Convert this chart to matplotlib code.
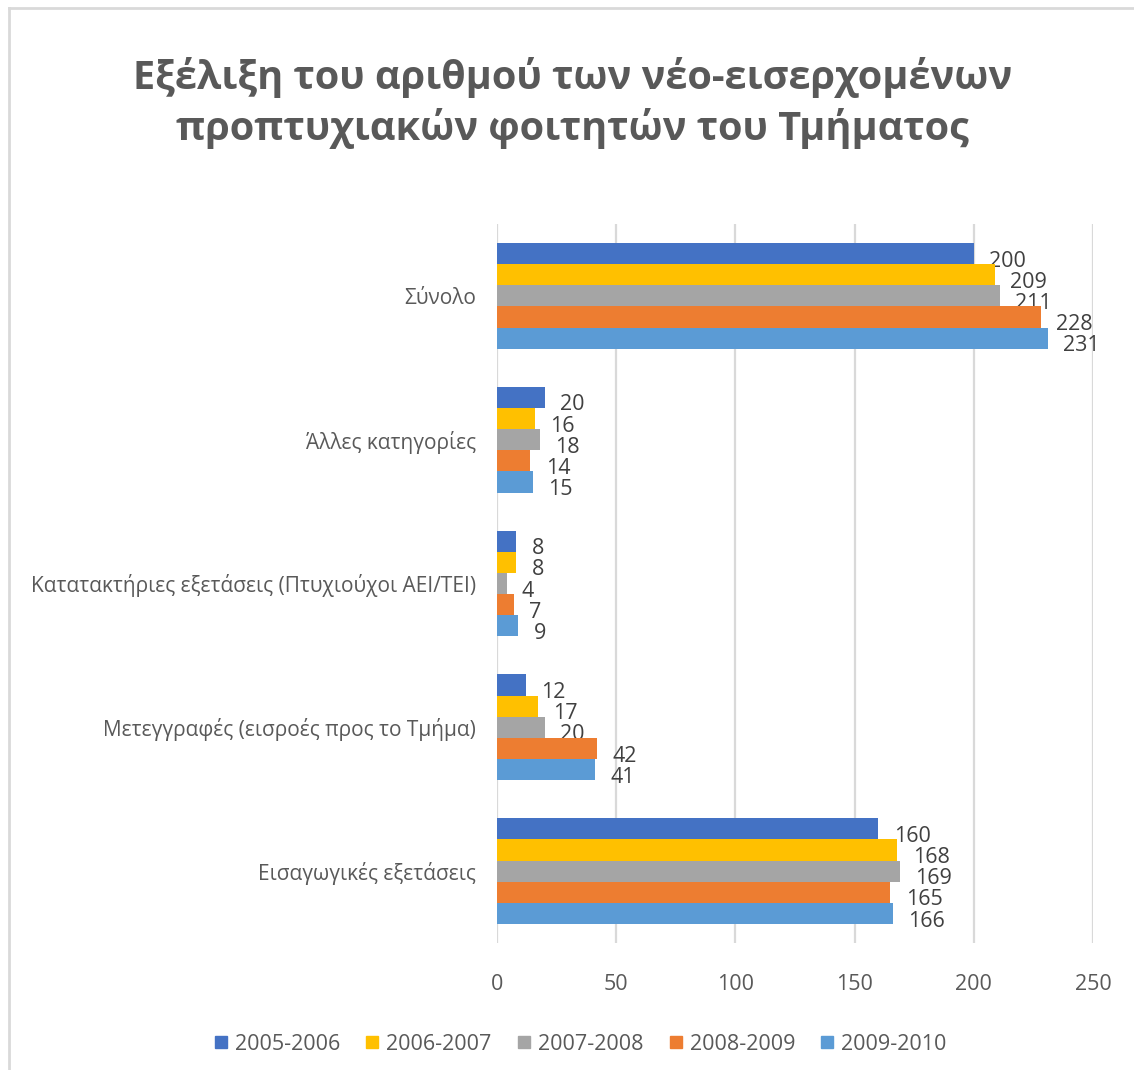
import numpy as np
import matplotlib
matplotlib.use("Agg")
import matplotlib.pyplot as plt
from matplotlib.lines import Line2D

plt.rcParams['font.family'] = ['Open Sans', 'DejaVu Sans']

categories = ["Σύνολο", "Άλλες κατηγορίες",
              "Κατατακτήριες εξετάσεις (Πτυχιούχοι ΑΕΙ/ΤΕΙ)",
              "Μετεγγραφές (εισροές προς το Τμήμα)",
              "Εισαγωγικές εξετάσεις"]
years = ["2005-2006", "2006-2007", "2007-2008", "2008-2009", "2009-2010"]
v2005 = [200, 20, 8, 12, 160]
v2006 = [209, 16, 8, 17, 168]
v2007 = [211, 18, 4, 20, 169]
v2008 = [228, 14, 7, 42, 165]
v2009 = [231, 15, 9, 41, 166]
series = [v2005, v2006, v2007, v2008, v2009]
colors = ["#4472C4", "#FFC000", "#A5A5A5", "#ED7D31", "#5B9BD5"]

txt = "#595959"
fig = plt.figure(figsize=(11.34, 10.70), dpi=100)
ax = fig.add_axes([0.4383, 0.1187, 0.5255, 0.672])

n = len(series)
h = 0.736 / n
y = np.arange(len(categories))
for i, (vals, c) in enumerate(zip(series, colors)):
    pos = y - 0.368 + h * (i + 0.5)
    ax.barh(pos, vals, height=h, color=c, zorder=3)
    for p, v in zip(pos, vals):
        ax.annotate(str(v), (v, p), xytext=(11, -5.5), textcoords="offset points",
                    ha="left", va="center", fontsize=15.5, color="#404040")

ax.set_ylim(len(categories) - 0.5, -0.5)
ax.set_xlim(0, 250)
ax.set_xticks([0, 50, 100, 150, 200, 250])
ax.set_yticks(y)
ax.set_yticklabels(categories)
ax.grid(axis="x", color="#D9D9D9", linewidth=1.6, zorder=0)
for s in ax.spines.values():
    s.set_visible(False)
ax.tick_params(axis="both", length=0, labelsize=15, labelcolor=txt)
ax.tick_params(axis="x", labelsize=15.5, pad=22)
ax.tick_params(axis="y", pad=15)

fig.text(0.505, 0.904, "Εξέλιξη του αριθμού των νέο-εισερχομένων\nπροπτυχιακών φοιτητών του Τμήματος",
         ha="center", va="center", fontsize=28.5, fontweight="bold", color=txt,
         linespacing=1.3)

handles = [Line2D([], [], marker="s", linestyle="", markersize=9,
                  markerfacecolor=c, markeredgecolor=c) for c in colors]
fig.legend(handles, years, loc="center", bbox_to_anchor=(0.51, 0.024), ncol=5,
           frameon=False, fontsize=15.5, labelcolor=txt, handletextpad=0.15,
           handlelength=1.0, columnspacing=1.0)

# chart frame edges
fig.add_artist(Line2D([0.008, 0.008], [0, 0.9925], color="#D9D9D9", lw=2,
                      transform=fig.transFigure))
fig.add_artist(Line2D([0.008, 1], [0.9925, 0.9925], color="#D9D9D9", lw=2,
                      transform=fig.transFigure))

fig.savefig("out.png", dpi=100)
